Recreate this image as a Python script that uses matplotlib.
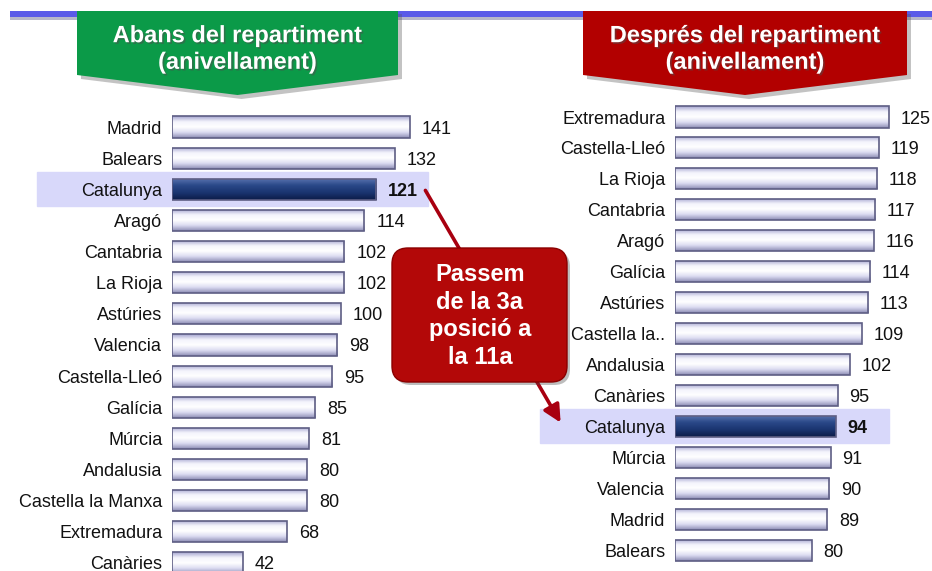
import numpy as np
import matplotlib.pyplot as plt
import matplotlib.patheffects as pe
from matplotlib.patches import Polygon, Rectangle, FancyBboxPatch, FancyArrowPatch
from matplotlib.colors import LinearSegmentedColormap

plt.rcParams['font.family'] = ['Liberation Sans', 'DejaVu Sans']

# data
before_regions = ['Madrid', 'Balears', 'Catalunya', 'Aragó', 'Cantabria', 'La Rioja',
                  'Astúries', 'Valencia', 'Castella-Lleó', 'Galícia', 'Múrcia',
                  'Andalusia', 'Castella la Manxa', 'Extremadura', 'Canàries']
before_values = [141, 132, 121, 114, 102, 102, 100, 98, 95, 85, 81, 80, 80, 68, 42]

after_regions = ['Extremadura', 'Castella-Lleó', 'La Rioja', 'Cantabria', 'Aragó',
                 'Galícia', 'Astúries', 'Castella la..', 'Andalusia', 'Canàries',
                 'Catalunya', 'Múrcia', 'Valencia', 'Madrid', 'Balears']
after_values = [125, 119, 118, 117, 116, 114, 113, 109, 102, 95, 94, 91, 90, 89, 80]

highlight = 'Catalunya'
title_before = 'Abans del repartiment\n(anivellament)'
title_after = 'Després del repartiment\n(anivellament)'
callout = 'Passem\nde la 3a\nposició a\nla 11a'

W, H = 932, 571
fig = plt.figure(figsize=(W / 100, H / 100), dpi=100)


def px_axes(left, top, width, height, z):
    ax = fig.add_axes([left / W, 1 - (top + height) / H, width / W, height / H], zorder=z)
    ax.patch.set_alpha(0)
    return ax


lav = LinearSegmentedColormap.from_list('lav', ['#a4a4d0', '#f4f4fc', '#ffffff', '#dadaf0', '#8c8cb4'])
navy = LinearSegmentedColormap.from_list('navy', ['#5a74b0', '#2a4888', '#1a3470', '#0c1c48'])
grad = np.linspace(0, 1, 64).reshape(-1, 1)


def draw_chart(ax, regions, values, xmax, band):
    n = len(values)
    bars = ax.barh(range(n), values, height=0.68, color='none',
                   edgecolor='#5e5e84', linewidth=1.2, zorder=3)
    for name, bar, v in zip(regions, bars, values):
        cm = navy if name == highlight else lav
        img = ax.imshow(grad, cmap=cm, aspect='auto', interpolation='bicubic', zorder=2,
                        extent=(bar.get_x(), bar.get_x() + bar.get_width(),
                                bar.get_y() + bar.get_height(), bar.get_y()))
        img.set_clip_path(bar)
        ax.text(v + xmax * 0.045, bar.get_y() + bar.get_height() / 2, str(v),
                va='center_baseline', ha='left', fontsize=13, color='#111111',
                fontweight='bold' if name == highlight else 'normal')
    hi = regions.index(highlight)
    ax.axhspan(hi - 0.55, hi + 0.55, xmin=band[0], xmax=band[1], color='#d8d8fa',
               zorder=0, clip_on=False)
    ax.set_xlim(0, xmax)
    ax.set_ylim(n - 0.5, -0.5)
    ax.set_yticks(range(n), labels=regions)
    ax.tick_params(axis='y', length=0, pad=7, labelsize=13, labelcolor='#111111')
    ax.set_xticks([])
    for s in ax.spines.values():
        s.set_visible(False)


# background decorations
bg = px_axes(0, 0, W, H, 0)
bg.set_xlim(0, W)
bg.set_ylim(H, 0)
bg.axis('off')
bg.add_patch(Rectangle((10, 14), W - 10, 6, color='#333366', alpha=0.35, lw=0))
bg.add_patch(Rectangle((10, 11), W - 10, 6, color='#5a5ae8', lw=0))

for (x0, x1, col, txt) in [(77, 398, '#0b9a48', title_before), (583, 907, '#b20000', title_after)]:
    xc = (x0 + x1) / 2
    shadow = [(x0 + 4, 14), (x1 + 4, 14), (x1 + 4, 79), (xc + 4, 99), (x0 + 4, 79)]
    bg.add_patch(Polygon(shadow, closed=True, color='#555555', alpha=0.35, lw=0))
    pts = [(x0, 11), (x1, 11), (x1, 75), (xc, 95), (x0, 75)]
    bg.add_patch(Polygon(pts, closed=True, color=col, lw=0))
    bg.text(xc, 49, txt, ha='center', va='center', fontsize=17, fontweight='bold',
            color='white', linespacing=1.2,
            path_effects=[pe.withSimplePatchShadow(offset=(1.2, -1.2), alpha=0.5)])

# bar charts
ax1 = px_axes(172, 127 - 15.57, 270, 15 * 31.14, 1)
draw_chart(ax1, before_regions, before_values, 160, (-0.5, 0.948))

ax2 = px_axes(675, 117 - 15.46, 256.8, 15 * 30.93, 1)
draw_chart(ax2, after_regions, after_values, 150, (-0.526, 0.833))

# callout and arrow
top = px_axes(0, 0, W, H, 3)
top.set_xlim(0, W)
top.set_ylim(H, 0)
top.axis('off')
top.add_patch(FancyArrowPatch((424, 188), (562, 425), arrowstyle='-|>', mutation_scale=26,
                              color='#a80010', lw=2.6, zorder=1))
top.add_patch(FancyBboxPatch((395, 251), 175, 134, boxstyle='round,pad=0,rounding_size=16',
                             color='#444444', alpha=0.35, lw=0, zorder=2))
top.add_patch(FancyBboxPatch((392, 248), 175, 134, boxstyle='round,pad=0,rounding_size=16',
                             facecolor='#b30808', edgecolor='#8a0000', lw=1, zorder=3))
top.text(480, 316, callout, ha='center', va='center', fontsize=17, fontweight='bold',
         color='white', linespacing=1.25, zorder=4)

fig.savefig('out.png', dpi=100)
